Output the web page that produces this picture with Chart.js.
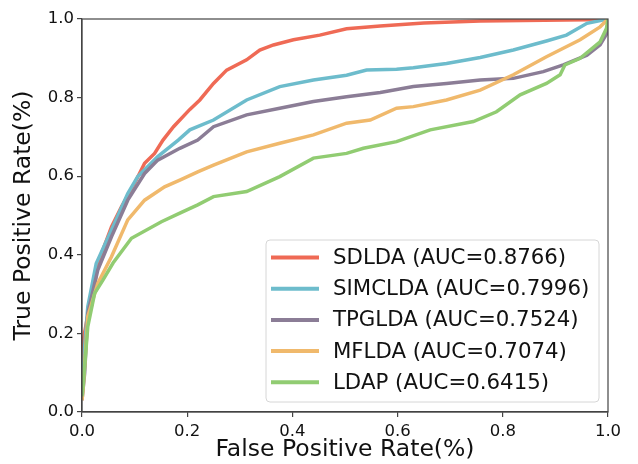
<!DOCTYPE html>
<html>
<head>
<meta charset="utf-8">
<script src="https://cdn.jsdelivr.net/npm/chart.js@4/dist/chart.umd.min.js"></script>
<style>
  html, body { margin: 0; padding: 0; background: #fff; }
  #wrap { width: 638px; height: 464px; }
</style>
</head>
<body>
<div id="wrap"><canvas id="rocChart" width="638" height="464"></canvas></div>
<script>
// ROC curves (false positive rate / true positive rate)
var sdldaFpr = [0, 0.002, 0.01, 0.018, 0.03, 0.056, 0.075, 0.1, 0.119, 0.138, 0.154, 0.174, 0.205, 0.224, 0.25, 0.275, 0.313, 0.338, 0.364, 0.402, 0.452, 0.503, 0.567, 0.65, 0.757, 0.96, 1];
var sdldaTpr = [0.05, 0.18, 0.24, 0.27, 0.378, 0.471, 0.522, 0.582, 0.633, 0.658, 0.692, 0.726, 0.77, 0.794, 0.836, 0.87, 0.896, 0.921, 0.934, 0.947, 0.959, 0.975, 0.982, 0.99, 0.995, 0.998, 1];

var simcldaFpr = [0, 0.005, 0.011, 0.027, 0.056, 0.087, 0.106, 0.144, 0.183, 0.205, 0.25, 0.313, 0.376, 0.44, 0.503, 0.541, 0.598, 0.63, 0.693, 0.757, 0.82, 0.883, 0.921, 0.96, 1];
var simcldaTpr = [0.04, 0.166, 0.268, 0.378, 0.463, 0.556, 0.599, 0.65, 0.692, 0.718, 0.743, 0.794, 0.828, 0.845, 0.857, 0.87, 0.872, 0.876, 0.887, 0.902, 0.921, 0.944, 0.959, 0.989, 1];

var tpgldaFpr = [0, 0.005, 0.011, 0.03, 0.056, 0.087, 0.119, 0.144, 0.186, 0.22, 0.25, 0.313, 0.376, 0.44, 0.503, 0.567, 0.63, 0.693, 0.757, 0.82, 0.877, 0.915, 0.96, 0.985, 1, 1];
var tpgldaTpr = [0.03, 0.098, 0.251, 0.361, 0.446, 0.539, 0.607, 0.641, 0.671, 0.692, 0.726, 0.756, 0.773, 0.79, 0.802, 0.813, 0.828, 0.836, 0.845, 0.849, 0.866, 0.883, 0.908, 0.934, 0.968, 1];

var mfldaFpr = [0, 0.002, 0.011, 0.03, 0.056, 0.087, 0.119, 0.157, 0.186, 0.22, 0.25, 0.313, 0.376, 0.44, 0.503, 0.548, 0.598, 0.63, 0.693, 0.757, 0.82, 0.883, 0.947, 0.985, 1];
var mfldaTpr = [0.03, 0.056, 0.243, 0.327, 0.395, 0.489, 0.539, 0.573, 0.59, 0.611, 0.628, 0.662, 0.684, 0.705, 0.735, 0.743, 0.773, 0.777, 0.794, 0.819, 0.858, 0.904, 0.947, 0.98, 1];

var ldapFpr = [0, 0.002, 0.011, 0.024, 0.04, 0.059, 0.094, 0.151, 0.186, 0.22, 0.25, 0.313, 0.376, 0.44, 0.503, 0.535, 0.598, 0.662, 0.744, 0.788, 0.833, 0.883, 0.909, 0.918, 0.947, 0.966, 0.985, 0.997, 1];
var ldapTpr = [0.04, 0.064, 0.217, 0.302, 0.336, 0.379, 0.442, 0.484, 0.506, 0.527, 0.548, 0.561, 0.599, 0.646, 0.658, 0.671, 0.688, 0.718, 0.739, 0.764, 0.807, 0.836, 0.858, 0.883, 0.9, 0.921, 0.942, 0.976, 1];

var seriesNames = ['SDLDA (AUC=0.8766)', 'SIMCLDA (AUC=0.7996)', 'TPGLDA (AUC=0.7524)', 'MFLDA (AUC=0.7074)', 'LDAP (AUC=0.6415)'];
var seriesColors = ['#ef6a55', '#6dbccc', '#8b7d96', '#f0b96c', '#91cc72'];
var tickValues = [0, 0.2, 0.4, 0.6, 0.8, 1.0];

function toPoints(xs, ys) {
    var pts = [];
    for (var i = 0; i < xs.length; i++) pts.push({x: xs[i], y: ys[i]});
    return pts;
}

var allFpr = [sdldaFpr, simcldaFpr, tpgldaFpr, mfldaFpr, ldapFpr];
var allTpr = [sdldaTpr, simcldaTpr, tpgldaTpr, mfldaTpr, ldapTpr];

var datasets = [];
for (var k = 0; k < seriesNames.length; k++) {
    datasets.push({
        label: seriesNames[k],
        data: toPoints(allFpr[k], allTpr[k]),
        borderColor: seriesColors[k],
        backgroundColor: seriesColors[k],
        borderWidth: 3.5,
        pointRadius: 0,
        tension: 0,
        fill: false,
        // last series on top, like the original plot
        order: seriesNames.length - 1 - k
    });
}

var FONT = 'DejaVu Sans';

// frame around plot + legend box drawn inside the plot
var framePlugin = {
    id: 'frame',
    afterDatasetsDraw: function (chart) {
        var a = chart.chartArea, c = chart.ctx;
        c.save();
        c.strokeStyle = '#444';
        c.lineWidth = 1.2;
        c.strokeRect(a.left, a.top, a.right - a.left, a.bottom - a.top);
        c.restore();
    },
    afterDraw: function (chart) {
        var c = chart.ctx;
        var bx = 266, by = 240, bw = 333, bh = 162, r = 4;
        c.save();
        c.beginPath();
        c.moveTo(bx + r, by);
        c.arcTo(bx + bw, by, bx + bw, by + bh, r);
        c.arcTo(bx + bw, by + bh, bx, by + bh, r);
        c.arcTo(bx, by + bh, bx, by, r);
        c.arcTo(bx, by, bx + bw, by, r);
        c.closePath();
        c.fillStyle = 'rgba(255,255,255,0.85)';
        c.fill();
        c.strokeStyle = '#d6d6d6';
        c.lineWidth = 1;
        c.stroke();
        c.font = '21.3px "' + FONT + '"';
        c.textBaseline = 'middle';
        c.fillStyle = '#111';
        chart.data.datasets.forEach(function (d, i) {
            var y = 257.5 + i * 31.2;
            c.strokeStyle = d.borderColor;
            c.lineWidth = 4;
            c.beginPath();
            c.moveTo(271, y);
            c.lineTo(319, y);
            c.stroke();
            c.fillText(d.label, 333, y + 1);
        });
        c.restore();
    }
};

var ctx = document.getElementById('rocChart').getContext('2d');
var rocChart = new Chart(ctx, {
    type: 'scatter',
    data: { datasets: datasets },
    options: {
        responsive: false,
        animation: false,
        showLine: true,
        layout: { padding: { top: 19, right: 30, left: 0, bottom: 0 } },
        plugins: {
            legend: { display: false },
            tooltip: { enabled: false }
        },
        scales: {
            x: {
                type: 'linear',
                min: 0, max: 1,
                afterBuildTicks: function (s) { s.ticks = tickValues.map(function (v) { return {value: v}; }); },
                afterFit: function (s) { s.height = 52; },
                ticks: {
                    font: { family: FONT, size: 16.5 }, color: '#111', padding: 5,
                    maxRotation: 0,
                    callback: function (v) { return v.toFixed(1); }
                },
                grid: { drawOnChartArea: false, drawTicks: true, tickLength: 5, color: '#444', lineWidth: 1.2 },
                border: { display: true, color: '#444', width: 1.2 },
                title: { display: true, text: 'False Positive Rate(%)', font: { family: FONT, size: 23.5 }, color: '#111', padding: { top: 0, bottom: 0 } }
            },
            y: {
                type: 'linear',
                min: 0, max: 1,
                afterBuildTicks: function (s) { s.ticks = tickValues.map(function (v) { return {value: v}; }); },
                afterFit: function (s) { s.width = 82; },
                ticks: {
                    font: { family: FONT, size: 16.5 }, color: '#111', padding: 3,
                    callback: function (v) { return v.toFixed(1); }
                },
                grid: { drawOnChartArea: false, drawTicks: true, tickLength: 5, color: '#444', lineWidth: 1.2 },
                border: { display: true, color: '#444', width: 1.2 },
                title: { display: true, text: 'True Positive Rate(%)', font: { family: FONT, size: 23.5 }, color: '#111', padding: { top: 10, bottom: 4 } }
            }
        }
    },
    plugins: [framePlugin]
});
</script>
</body>
</html>
